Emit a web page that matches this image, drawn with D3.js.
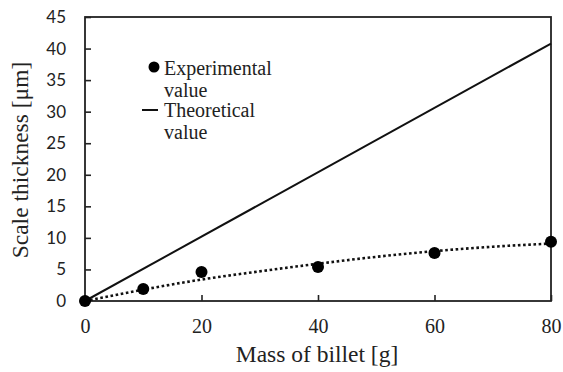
<!DOCTYPE html>
<html><head><meta charset="utf-8">
<script src="https://cdn.jsdelivr.net/npm/d3@7"></script>
<style>body{margin:0;background:#fff}svg{display:block}</style>
</head><body>
<script>
const massX = [0, 10, 20, 40, 60, 80];
const experimental = [0, 1.9, 4.6, 5.4, 7.6, 9.4];
const theoX = [0, 80];
const theoretical = [0, 40.8];
const trendX = [0, 10, 20, 30, 40, 50, 60, 70, 80];
const trendY = [0, 1.8, 3.4, 4.7, 5.9, 7.0, 7.9, 8.6, 9.1];
const xTicks = [0, 20, 40, 60, 80];
const yTicks = [0, 5, 10, 15, 20, 25, 30, 35, 40, 45];

const W = 563, H = 372;
const m = {l: 85, r: 12, t: 17, b: 71};
const SERIF = '"Liberation Serif"';
const SANS = '"Lato"';
const svg = d3.select("body").append("svg").attr("width", W).attr("height", H);
const x = d3.scaleLinear().domain([0, 80]).range([m.l, W - m.r]);
const y = d3.scaleLinear().domain([0, 45]).range([H - m.b, m.t]);

// frame
svg.append("rect").attr("x", x(0)).attr("y", y(45)).attr("width", x(80) - x(0)).attr("height", y(0) - y(45))
  .attr("fill", "none").attr("stroke", "#222").attr("stroke-width", 1.8);

// axes
const xa = svg.append("g").attr("transform", `translate(0,${y(0)})`)
  .call(d3.axisBottom(x).tickValues(xTicks).tickSize(-6).tickPadding(18).tickFormat(d3.format("d")));
xa.select(".domain").remove();
xa.selectAll("line").attr("stroke", "#222").attr("stroke-width", 1.6);
xa.selectAll("text").style("font-family", SERIF).style("font-size", "20px").attr("fill", "#222");

const ya = svg.append("g").attr("transform", `translate(${x(0)},0)`)
  .call(d3.axisLeft(y).tickValues(yTicks).tickSize(-6).tickPadding(19).tickFormat(d3.format("d")));
ya.select(".domain").remove();
ya.selectAll("line").attr("stroke", "#222").attr("stroke-width", 1.6);
ya.selectAll("text").style("font-family", SANS).style("font-size", "17px").attr("fill", "#222");

// theoretical line
svg.append("path").datum(theoX.map((d, i) => [d, theoretical[i]]))
  .attr("d", d3.line().x(d => x(d[0])).y(d => y(d[1])))
  .attr("fill", "none").attr("stroke", "#111").attr("stroke-width", 2);

// trend dotted
svg.append("path").datum(trendX.map((d, i) => [d, trendY[i]]))
  .attr("d", d3.line().x(d => x(d[0])).y(d => y(d[1])).curve(d3.curveMonotoneX))
  .attr("fill", "none").attr("stroke", "#111").attr("stroke-width", 2.6).attr("stroke-dasharray", "2.6,2.6");

// points
svg.selectAll("circle.pt").data(massX.map((d, i) => [d, experimental[i]])).enter()
  .append("circle").attr("class", "pt").attr("cx", d => x(d[0])).attr("cy", d => y(d[1])).attr("r", 6).attr("fill", "#000");

// axis titles
svg.append("text").attr("x", (x(0) + x(80)) / 2 - 1).attr("y", 362).attr("text-anchor", "middle")
  .style("font-family", SERIF).style("font-size", "23.5px").attr("fill", "#222").text("Mass of billet [g]");
svg.append("text").attr("transform", `translate(28,${(y(0) + y(45)) / 2 + 1}) rotate(-90)`).attr("text-anchor", "middle")
  .style("font-family", SERIF).style("font-size", "23.5px").attr("fill", "#222").text("Scale thickness [μm]");

// legend
const lg = svg.append("g").attr("fill", "#222");
lg.append("circle").attr("cx", 154).attr("cy", 67).attr("r", 5.5).attr("fill", "#000");
const leg = [["Experimental", 75], ["value", 97], ["Theoretical", 117], ["value", 139]];
lg.selectAll("text").data(leg).enter().append("text").style("font-family", SERIF).style("font-size", "20px")
  .attr("x", 164).attr("y", d => d[1]).text(d => d[0]);
lg.append("line").attr("x1", 142).attr("x2", 158).attr("y1", 110).attr("y2", 110).attr("stroke", "#111").attr("stroke-width", 2);
</script>
</body></html>
